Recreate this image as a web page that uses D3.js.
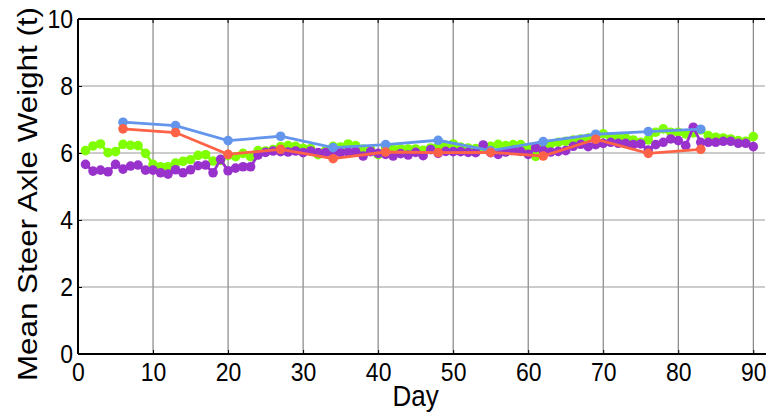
<!DOCTYPE html>
<html>
<head>
<meta charset="utf-8">
<script src="https://cdn.jsdelivr.net/npm/d3@7"></script>
<style>
  body { margin: 0; background: #fff; }
  svg { display: block; font-family: "Liberation Sans", Arial, sans-serif; }
</style>
</head>
<body>
<div id="chart"></div>
<script>
// daily series, days 1..90
const days = d3.range(1, 91);
const greenVals = [6.07, 6.21, 6.27, 6.01, 6.04, 6.26, 6.23, 6.22, 5.99, 5.66,
  5.59, 5.59, 5.70, 5.75, 5.80, 5.93, 5.95, 5.76, 5.78, 5.93,
  5.89, 5.99, 5.89, 6.07, 6.06, 6.10, 6.19, 6.22, 6.20, 6.14,
  6.13, 5.95, 6.08, 6.20, 6.18, 6.27, 6.22, 6.12, 6.10, 5.95,
  6.16, 6.12, 6.12, 6.12, 6.12, 6.08, 6.15, 6.20, 6.23, 6.27,
  6.18, 6.15, 6.13, 6.12, 6.20, 6.26, 6.22, 6.25, 6.25, 6.12,
  5.90, 6.17, 6.27, 6.32, 6.35, 6.39, 6.42, 6.45, 6.52, 6.57,
  6.47, 6.47, 6.45, 6.39, 6.32, 6.39, 6.62, 6.72, 6.62, 6.62,
  6.57, 6.60, 6.69, 6.52, 6.47, 6.45, 6.42, 6.37, 6.35, 6.49];
const purpleVals = [5.66, 5.46, 5.49, 5.44, 5.66, 5.52, 5.61, 5.64, 5.49, 5.49,
  5.41, 5.37, 5.50, 5.41, 5.50, 5.62, 5.64, 5.41, 5.81, 5.47,
  5.55, 5.59, 5.59, 5.94, 6.02, 6.06, 6.04, 6.03, 6.06, 6.01,
  6.06, 6.01, 6.01, 5.99, 6.01, 6.03, 6.04, 5.91, 6.04, 5.99,
  5.96, 5.91, 5.98, 5.94, 6.02, 5.92, 6.10, 5.99, 6.05, 6.04,
  6.04, 6.02, 6.01, 6.24, 6.01, 5.96, 6.03, 6.08, 6.05, 5.96,
  6.16, 6.07, 6.03, 6.05, 6.07, 6.20, 6.26, 6.19, 6.25, 6.29,
  6.32, 6.29, 6.29, 6.25, 6.27, 6.09, 6.25, 6.32, 6.42, 6.37,
  6.22, 6.77, 6.32, 6.32, 6.32, 6.35, 6.35, 6.29, 6.29, 6.19];

// weekly series
const weeks = [6, 13, 20, 27, 34, 41, 48, 55, 62, 69, 76, 83];
const blueVals = [6.92, 6.82, 6.37, 6.50, 6.16, 6.25, 6.38, 6.07, 6.34, 6.56, 6.64, 6.71];
const redVals = [6.72, 6.61, 5.96, 6.11, 5.83, 6.03, 6.01, 6.02, 5.91, 6.41, 5.99, 6.11];

const xTicks = [0, 10, 20, 30, 40, 50, 60, 70, 80, 90];
const yTicks = [0, 2, 4, 6, 8, 10];

const width = 766, height = 414;
const margin = {top: 19, right: 1, bottom: 60, left: 78};
const stretch = 1.12; // glyphs in the original look a bit tall

const svg = d3.select('#chart').append('svg')
  .attr('width', width)
  .attr('height', height);

const x = d3.scaleLinear()
  .domain([0, 91.56])
  .range([margin.left, width - margin.right]);
const y = d3.scaleLinear()
  .domain([0, 10])
  .range([height - margin.bottom, margin.top]);

// grid
svg.append('g')
  .selectAll('line')
  .data(xTicks.filter(d => d > 0))
  .join('line')
    .attr('x1', d => x(d)).attr('x2', d => x(d))
    .attr('y1', y(0)).attr('y2', y(10))
    .attr('stroke', '#6e6e6e')
    .attr('stroke-width', 1);
svg.append('g')
  .selectAll('line')
  .data(yTicks.filter(d => d > 0 && d < 10))
  .join('line')
    .attr('x1', x(0)).attr('x2', width - margin.right)
    .attr('y1', d => y(d)).attr('y2', d => y(d))
    .attr('stroke', '#999')
    .attr('stroke-width', 1);

// axes
const xAxis = svg.append('g')
  .attr('transform', `translate(0,${y(0)})`)
  .call(d3.axisBottom(x).tickValues(xTicks).tickSize(-4).tickPadding(6).tickFormat(d3.format('d')));
const yAxis = svg.append('g')
  .attr('transform', `translate(${x(0)},0)`)
  .call(d3.axisLeft(y).tickValues(yTicks).tickSize(-4).tickPadding(5).tickFormat(d3.format('d')));

[xAxis, yAxis].forEach(g => {
  g.select('.domain').attr('stroke', '#000').attr('stroke-width', 2);
  g.selectAll('.tick line').attr('stroke', '#000');
  g.selectAll('.tick text')
    .attr('fill', '#000')
    .style('font-size', '23px')
    .style('font-family', '"Liberation Sans", Arial, sans-serif');
});
xAxis.selectAll('.tick text')
  .attr('y', 0)
  .attr('dy', null)
  .attr('transform', `translate(0,27) scale(1,${stretch})`);
yAxis.selectAll('.tick text')
  .attr('dy', null)
  .attr('transform', `translate(0,8) scale(1,${stretch})`);
xAxis.select('.domain').attr('d', `M${x(0)},0H${width}`);
yAxis.select('.domain').attr('d', `M0,${y(0)}V${y(10)}`);

// top border
svg.append('line')
  .attr('x1', x(0)).attr('x2', width - 1)
  .attr('y1', y(10)).attr('y2', y(10))
  .attr('stroke', '#000')
  .attr('stroke-width', 2);
svg.append('g')
  .selectAll('line')
  .data(xTicks)
  .join('line')
    .attr('x1', d => x(d)).attr('x2', d => x(d))
    .attr('y1', y(10)).attr('y2', y(10) + 4)
    .attr('stroke', '#000');

// series
const series = [
  {xs: days, ys: greenVals, color: '#7fff00'},
  {xs: days, ys: purpleVals, color: '#9932cc'},
  {xs: weeks, ys: blueVals, color: '#6495ed'},
  {xs: weeks, ys: redVals, color: '#ff6347'}
];

const line = d3.line()
  .x(d => x(d[0]))
  .y(d => y(d[1]));

series.forEach(s => {
  const pts = s.xs.map((d, i) => [d, s.ys[i]]);
  const g = svg.append('g');
  g.append('path')
    .datum(pts)
    .attr('d', line)
    .attr('fill', 'none')
    .attr('stroke', s.color)
    .attr('stroke-width', 2.8);
  g.selectAll('circle')
    .data(pts)
    .join('circle')
      .attr('cx', d => x(d[0]))
      .attr('cy', d => y(d[1]))
      .attr('r', 4.8)
      .attr('fill', s.color);
});

// axis titles
svg.append('text')
  .attr('text-anchor', 'middle')
  .attr('transform', `translate(${x(45)},406) scale(1,${stretch})`)
  .style('font-size', '26px')
  .text('Day');
svg.append('text')
  .attr('text-anchor', 'middle')
  .attr('transform', `translate(37,194) rotate(-90) scale(${stretch},1)`)
  .style('font-size', '28px')
  .text('Mean Steer Axle Weight (t)');
</script>
</body>
</html>
